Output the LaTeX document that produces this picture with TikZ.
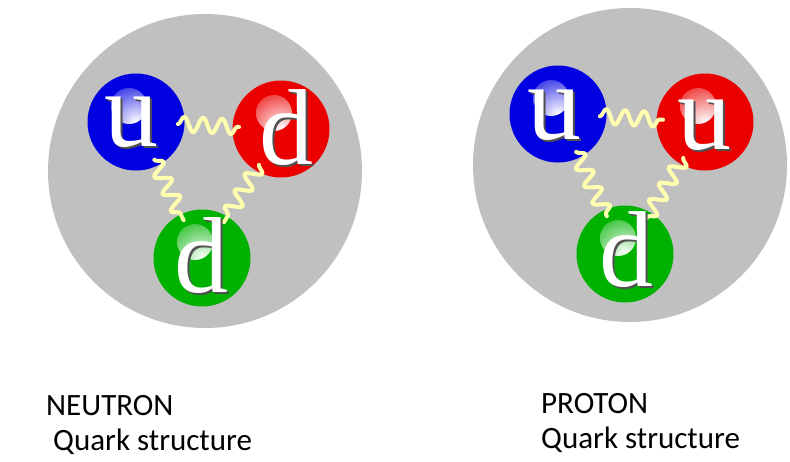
\documentclass[tikz,border=0pt]{standalone}
\usepackage{fontspec}
\setmainfont{Liberation Serif}
\newfontfamily\capfont{Carlito}
\usetikzlibrary{decorations.pathmorphing,calc}

\definecolor{bodygrey}{RGB}{192,192,192}
\definecolor{qblue}{RGB}{0,0,225}
\definecolor{qred}{RGB}{235,0,0}
\definecolor{qgreen}{RGB}{0,178,0}
\definecolor{gluoncol}{RGB}{255,255,175}
\definecolor{shadowcol}{RGB}{80,80,80}

% white flavour letter with a soft dark shadow behind it
\newcommand{\flavourletter}[1]{%
  \makebox[0pt][l]{\hspace{2pt}\raisebox{-2pt}{\textcolor{shadowcol}{#1}}}%
  \textcolor{white}{#1}}

% wavy gluon line between two quarks, reaching a little into each ball
\newcommand{\gluonline}[2]{%
  \draw[gluon] ($(#1)!42pt!(#2)$) -- ($(#2)!42pt!(#1)$);}

\tikzset{
  hadron/.style={circle, fill=bodygrey, minimum size=314pt, inner sep=0pt},
  quark/.style={circle, fill=#1, minimum size=97pt, inner sep=0pt,
    path picture={\shade[inner color=white, outer color=#1]
      ($(path picture bounding box.center)+(-7,-16)$) circle (18);}},
  flavour/.style={anchor=base, inner sep=0pt,
    font=\fontsize{108}{108}\selectfont},
  gluon/.style={draw=gluoncol, line width=4pt, line cap=round, line join=round,
    decorate, decoration={snake, segment length=19pt, amplitude=7.5pt}},
  caption/.style={anchor=base west, inner sep=0pt, text=black,
    font=\capfont\fontsize{31}{31}\selectfont},
}

\begin{document}
\begin{tikzpicture}[x=1pt, y=-1pt]
  \useasboundingbox (0,0) rectangle (790,461);

  % hadron bodies
  \node[hadron] (neutron) at (205,171) {};
  \node[hadron] (proton)  at (630,165) {};

  % neutron: u d d
  \node[quark=qblue]  (nu)  at (136,122) {};
  \node[quark=qred]   (nd1) at (281,129) {};
  \node[quark=qgreen] (nd2) at (202,258) {};
  \gluonline{nu}{nd1}
  \gluonline{nu}{nd2}
  \gluonline{nd1}{nd2}
  \node[flavour] (nul)  at (131,146) {\flavourletter{u}};
  \node[flavour] (nd1l) at (286,164) {\flavourletter{d}};
  \node[flavour] (nd2l) at (201,292) {\flavourletter{d}};

  % proton: u u d
  \node[quark=qblue]  (pu1) at (558,114) {};
  \node[quark=qred]   (pu2) at (705,122) {};
  \node[quark=qgreen] (pd)  at (625,254) {};
  \gluonline{pu1}{pu2}
  \gluonline{pu1}{pd}
  \gluonline{pu2}{pd}
  \node[flavour] (pu1l) at (554,139) {\flavourletter{u}};
  \node[flavour] (pu2l) at (704,149) {\flavourletter{u}};
  \node[flavour] (pdl)  at (626,286) {\flavourletter{d}};

  % captions
  \node[caption] (ntitle) at (46,415) {NEUTRON};
  \node[caption] (nsub)   at (53,450) {Quark structure};
  \node[caption] (ptitle) at (541,413) {PROTON};
  \node[caption] (psub)   at (541,448) {Quark structure};
\end{tikzpicture}
\end{document}
